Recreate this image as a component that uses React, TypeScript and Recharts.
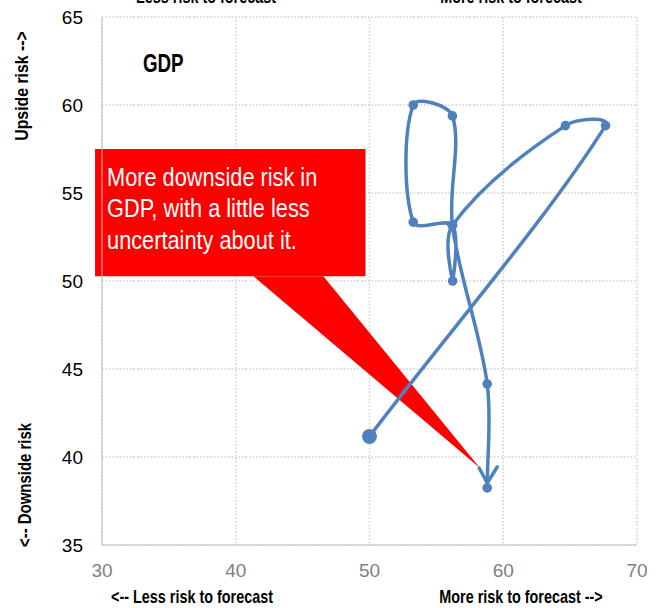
import React from 'react';
import { LineChart, Line, XAxis, YAxis, CartesianGrid, ReferenceArea } from 'recharts';

// risk path, in the order it was drawn (the junction point is passed three times)
const riskX = [50, 67.65, 64.65, 56.2, 56.22, 56.2, 53.27, 53.27, 56.2, 56.2, 58.8, 58.8];
const riskY = [41.17, 58.83, 58.83, 53.17, 50.0, 53.17, 53.34, 60.0, 59.38, 53.17, 44.15, 38.24];

const xTicks = [30, 40, 50, 60, 70];
const yTicks = [35, 40, 45, 50, 55, 60, 65];

// callout box + pointer (data coords)
const calloutBox = { x1: 29.48, x2: 49.7, y1: 50.27, y2: 57.5 };
const pointer = { baseLeft: 41.32, baseRight: 46.55, baseY: 50.27, tipX: 58.26, tipY: 39.37 };
const calloutLines = ['More downside risk in', 'GDP, with a little less', 'uncertainty about it.'];

const data = riskX.map((x, i) => ({ x, y: riskY[i] }));

const BLUE = '#4F81BD';
const FONT = '"Liberation Sans", Arial, sans-serif';

// Excel-like smoothing: catmull-rom beziers, tangents scaled by neighbouring segment lengths
const smoothCurve = (context: any) => {
  let pts: number[][] = [];
  const dist = (a: number[], b: number[]) => Math.hypot(b[0] - a[0], b[1] - a[1]);
  return {
    areaStart() {},
    areaEnd() {},
    lineStart() {
      pts = [];
    },
    point(x: number, y: number) {
      pts.push([x, y]);
    },
    lineEnd() {
      if (!pts.length) return;
      context.moveTo(pts[0][0], pts[0][1]);
      for (let i = 0; i < pts.length - 1; i++) {
        const p0 = pts[Math.max(i - 1, 0)];
        const p1 = pts[i];
        const p2 = pts[i + 1];
        const p3 = pts[Math.min(i + 2, pts.length - 1)];
        const d01 = dist(p0, p1);
        const d12 = dist(p1, p2);
        const d23 = dist(p2, p3);
        const f1 = d01 + d12 ? d12 / (d01 + d12) / 3 : 0;
        const f2 = d12 + d23 ? d12 / (d12 + d23) / 3 : 0;
        context.bezierCurveTo(
          p1[0] + (p2[0] - p0[0]) * f1,
          p1[1] + (p2[1] - p0[1]) * f1,
          p2[0] - (p3[0] - p1[0]) * f2,
          p2[1] - (p3[1] - p1[1]) * f2,
          p2[0],
          p2[1]
        );
      }
    },
  };
};

const renderDot = (props: any) => {
  const { cx, cy, index } = props;
  if (index === 0) return <circle key={`d${index}`} cx={cx} cy={cy} r={7.5} fill={BLUE} />;
  if (index === data.length - 1) {
    return (
      <g key={`d${index}`}>
        <circle cx={cx} cy={cy} r={4.8} fill={BLUE} />
        <polyline
          points={`${cx - 8},${cy - 20} ${cx},${cy - 5} ${cx + 10},${cy - 21}`}
          fill="none"
          stroke={BLUE}
          strokeWidth={3.5}
          strokeLinecap="round"
          strokeLinejoin="round"
        />
      </g>
    );
  }
  return <circle key={`d${index}`} cx={cx} cy={cy} r={4.8} fill={BLUE} />;
};

// narrow text: regular font squeezed horizontally
const Narrow = ({ x, y, rotate = 0, sx = 0.8, anchor = 'middle', size = 18, weight = 700, fill = '#000', children }: any) => (
  <text
    transform={`translate(${x},${y}) rotate(${rotate}) scale(${sx},1)`}
    textAnchor={anchor}
    fontFamily={FONT}
    fontSize={size}
    fontWeight={weight}
    fill={fill}
  >
    {children}
  </text>
);

const CalloutBox = (props: any) => {
  const { x, y, width, height } = props;
  return (
    <g>
      <rect x={x} y={y} width={width} height={height} fill="#FF0000" />
      <text
        transform={`translate(${x + 12},${y + 36.5}) scale(0.87,1)`}
        fill="#fff"
        fontFamily={FONT}
        fontSize={25}
      >
        {calloutLines.map((t, i) => (
          <tspan key={i} x={0} y={i * 31.8}>
            {t}
          </tspan>
        ))}
      </text>
    </g>
  );
};

const Pointer = (props: any) => {
  const { x, y, width, height } = props;
  const frac = (pointer.baseRight - pointer.baseLeft) / (pointer.tipX - pointer.baseLeft);
  return (
    <polygon
      points={`${x},${y} ${x + width * frac},${y} ${x + width},${y + height}`}
      fill="#FF0000"
    />
  );
};

export default function App() {
  return (
    <div style={{ position: 'absolute', left: 0, top: 0, width: 659, height: 608, background: '#fff' }}>
      <LineChart width={659} height={608} data={data} margin={{ top: 17, right: 22, left: 0, bottom: 0 }}>
        <CartesianGrid stroke="#d0d0d0" strokeWidth={1.5} strokeDasharray="1.5 2" />
        <XAxis
          type="number"
          dataKey="x"
          domain={[30, 70]}
          ticks={xTicks}
          height={63}
          tickLine={false}
          tickSize={0}
          tickMargin={19}
          stroke="#bfbfbf"
          tick={{ fill: '#808080', fontSize: 19, fontFamily: FONT }}
        />
        <YAxis
          type="number"
          dataKey="y"
          domain={[35, 65]}
          ticks={yTicks}
          width={102}
          tickLine={false}
          tickSize={0}
          tickMargin={19}
          stroke="#bfbfbf"
          tick={{ fill: '#000', fontSize: 19, fontFamily: FONT }}
        />
        <ReferenceArea
          x1={calloutBox.x1}
          x2={calloutBox.x2}
          y1={calloutBox.y1}
          y2={calloutBox.y2}
          ifOverflow="visible"
          shape={CalloutBox}
        />
        <ReferenceArea
          x1={pointer.baseLeft}
          x2={pointer.tipX}
          y1={pointer.tipY}
          y2={pointer.baseY}
          ifOverflow="visible"
          shape={Pointer}
        />
        <Line
          dataKey="y"
          type={smoothCurve as any}
          stroke={BLUE}
          strokeWidth={3.5}
          dot={renderDot}
          activeDot={false}
          isAnimationActive={false}
        />
        <Narrow x={143} y={72} anchor="start" size={25} sx={0.75}>
          GDP
        </Narrow>
        <Narrow x={206} y={3}>Less risk to forecast</Narrow>
        <Narrow x={511} y={3}>More risk to forecast</Narrow>
        <Narrow x={192} y={603}>{'<-- Less risk to forecast'}</Narrow>
        <Narrow x={521} y={603}>{'More risk to forecast -->'}</Narrow>
        <Narrow x={28} y={86} rotate={-90} sx={0.88}>
          {'Upside risk -->'}
        </Narrow>
        <Narrow x={31} y={485} rotate={-90} sx={0.83}>
          {'<-- Downside risk'}
        </Narrow>
      </LineChart>
    </div>
  );
}
